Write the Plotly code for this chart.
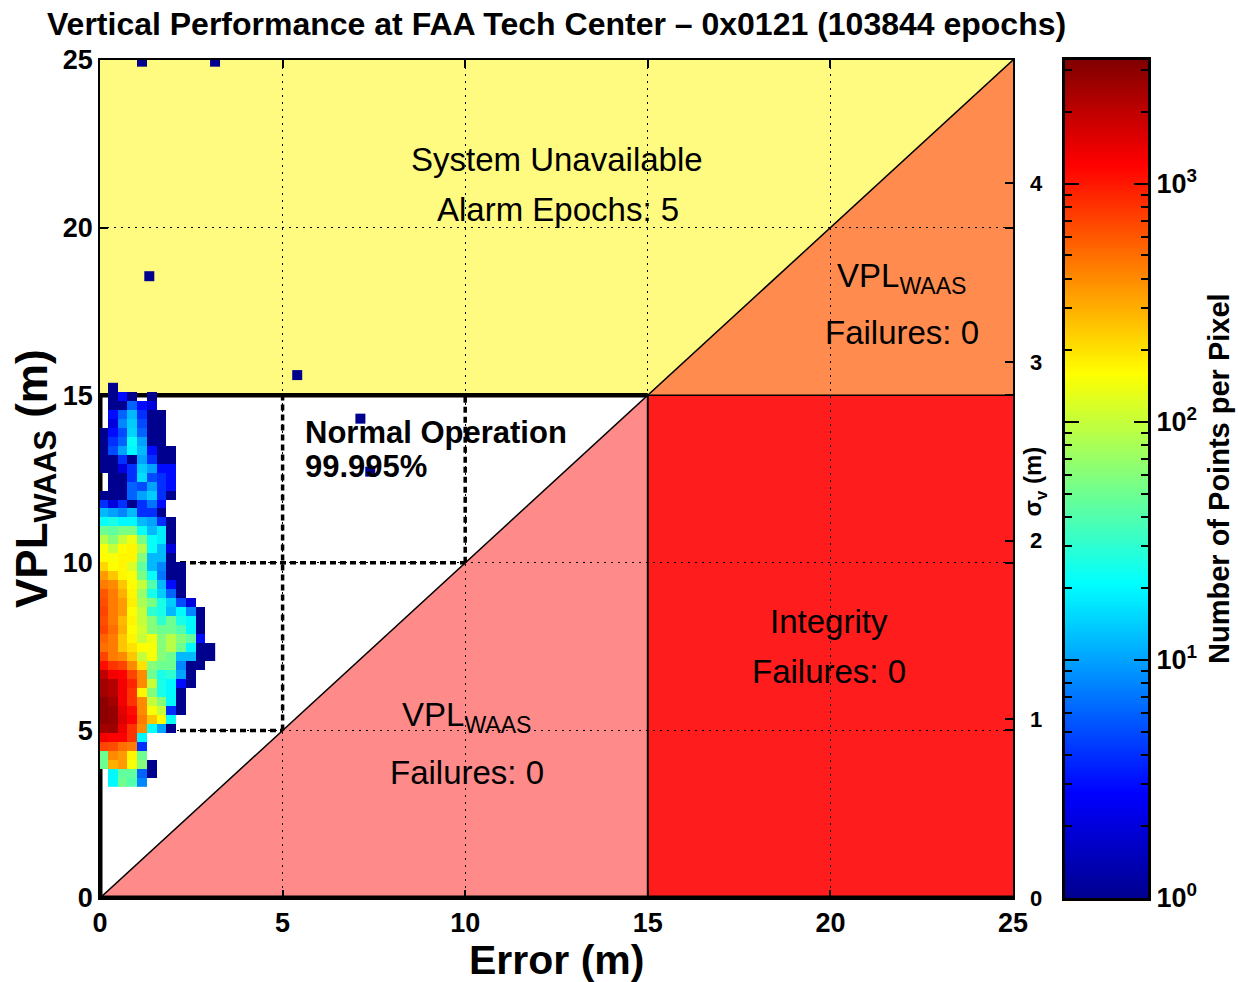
import numpy as np
import plotly.graph_objects as go

# ---------------------------------------------------------------- text
TITLE = "Vertical Performance at FAA Tech Center – 0x0121 (103844 epochs)"
X_LABEL = "Error (m)"
Y_LABEL = "VPL<sub>WAAS</sub> (m)"
SIGMA_LABEL = "σ<sub>v</sub> (m)"
CBAR_LABEL = "Number of Points per Pixel"

# ---------------------------------------------------------------- axes
AXIS_MAX = 25          # m, both axes
VAL = 15               # vertical alert limit, m
K_V = 5.33             # VPL = K_V * sigma_v
AXIS_TICKS = [0, 5, 10, 15, 20, 25]
SIGMA_TICKS = [0, 1, 2, 3, 4]
CBAR_DECADES = [0, 1, 2, 3]
LOG_COUNT_MAX = 3.52   # top of colour scale, log10(points per pixel)

# ---------------------------------------------------------------- 2-D histogram
# pixel grid: first error bin / first VPL bin lower edge and pixel size (m)
ERR_EDGE0 = -0.05
VPL_EDGE0 = 3.31
PIX = 0.268

# points per pixel, rows listed from the highest VPL pixel row down to the lowest,
# columns from the smallest error upward
counts_top_down = [
    [0, 1, 0, 0, 0, 0, 0, 0, 0, 0, 0, 0],
    [0, 1, 3, 1, 0, 1, 0, 0, 0, 0, 0, 0],
    [0, 1, 1, 6, 3, 2, 0, 0, 0, 0, 0, 0],
    [0, 3, 6, 12, 4, 1, 1, 0, 0, 0, 0, 0],
    [0, 2, 8, 14, 5, 1, 1, 0, 0, 0, 0, 0],
    [1, 3, 5, 15, 6, 1, 1, 0, 0, 0, 0, 0],
    [1, 4, 6, 22, 10, 1, 1, 0, 0, 0, 0, 0],
    [1, 5, 10, 20, 12, 3, 1, 1, 0, 0, 0, 0],
    [1, 1, 4, 1, 10, 4, 1, 1, 0, 0, 0, 0],
    [1, 1, 2, 4, 14, 10, 3, 3, 0, 0, 0, 0],
    [0, 1, 1, 4, 16, 5, 4, 3, 0, 0, 0, 0],
    [0, 1, 1, 6, 5, 10, 4, 3, 0, 0, 0, 0],
    [1, 1, 1, 6, 10, 14, 4, 1, 0, 0, 0, 0],
    [4, 2, 4, 1, 4, 7, 3, 0, 0, 0, 0, 0],
    [12, 10, 8, 12, 4, 4, 1, 0, 0, 0, 0, 0],
    [22, 25, 20, 20, 12, 10, 4, 1, 0, 0, 0, 0],
    [50, 45, 55, 55, 22, 12, 18, 1, 0, 0, 0, 0],
    [90, 60, 100, 140, 55, 22, 18, 1, 0, 0, 0, 0],
    [150, 100, 160, 170, 90, 22, 12, 2, 0, 0, 0, 0],
    [160, 150, 170, 170, 60, 12, 12, 1, 0, 0, 0, 0],
    [220, 160, 170, 120, 45, 12, 8, 1, 1, 0, 0, 0],
    [350, 250, 170, 150, 55, 22, 7, 1, 1, 0, 0, 0],
    [450, 400, 250, 160, 100, 40, 12, 3, 1, 0, 0, 0],
    [600, 450, 300, 170, 70, 25, 14, 6, 1, 0, 0, 0],
    [650, 450, 350, 180, 80, 55, 25, 14, 5, 2, 0, 0],
    [700, 450, 350, 160, 100, 30, 25, 12, 20, 8, 1, 0],
    [650, 450, 280, 170, 100, 60, 30, 50, 25, 20, 1, 0],
    [700, 500, 300, 160, 110, 60, 50, 50, 40, 20, 1, 0],
    [550, 450, 250, 170, 100, 140, 60, 90, 60, 45, 3, 0],
    [500, 450, 250, 200, 160, 150, 60, 90, 50, 20, 1, 1],
    [700, 450, 400, 250, 100, 150, 60, 50, 12, 12, 1, 1],
    [1100, 800, 700, 400, 200, 60, 50, 50, 8, 1, 1, 0],
    [2000, 1300, 1200, 700, 400, 50, 25, 30, 10, 1, 0, 0],
    [2500, 2200, 1300, 900, 400, 100, 25, 20, 3, 1, 0, 0],
    [2500, 2200, 1300, 800, 170, 60, 25, 20, 1, 0, 0, 0],
    [3000, 2500, 1300, 800, 400, 100, 60, 20, 1, 0, 0, 0],
    [3000, 2800, 1500, 1100, 400, 150, 100, 4, 1, 0, 0, 0],
    [3000, 2800, 1600, 1200, 450, 250, 160, 22, 0, 0, 0, 0],
    [2500, 2600, 1400, 800, 400, 22, 10, 1, 0, 0, 0, 0],
    [1300, 1200, 1200, 800, 20, 0, 0, 0, 0, 0, 0, 0],
    [700, 650, 500, 450, 4, 0, 0, 0, 0, 0, 0, 0],
    [50, 400, 350, 170, 50, 0, 0, 0, 0, 0, 0, 0],
    [50, 300, 350, 150, 60, 1, 0, 0, 0, 0, 0, 0],
    [0, 20, 45, 45, 6, 1, 0, 0, 0, 0, 0, 0],
    [0, 20, 50, 40, 8, 0, 0, 0, 0, 0, 0, 0],
]

# isolated single-epoch pixels away from the main cluster
outlier_error = [1.15, 3.15, 1.35, 5.40, 7.13, 7.40]
outlier_vpl = [24.95, 24.95, 18.55, 15.60, 14.30, 12.72]
outlier_counts = [1, 1, 1, 1, 1, 1]

# ---------------------------------------------------------------- region labels
region_labels = [
    # text, error (m), VPL (m)
    ("System Unavailable", 12.5, 22.02),
    ("Alarm Epochs: 5", 12.55, 20.55),
    ("VPL<sub>WAAS</sub>", 21.97, 18.5),
    ("Failures: 0", 21.97, 16.86),
    ("Integrity", 19.97, 8.26),
    ("Failures: 0", 19.97, 6.77),
    ("VPL<sub>WAAS</sub>", 10.05, 5.4),
    ("Failures: 0", 10.05, 3.73),
]
normal_op_labels = [
    ("Normal Operation", 5.55, 13.9),
    ("99.995%", 5.55, 12.86),
]

# ---------------------------------------------------------------- styling
JET = [
    [0.000, "rgb(0,0,143)"],
    [0.125, "rgb(0,0,255)"],
    [0.375, "rgb(0,255,255)"],
    [0.625, "rgb(255,255,0)"],
    [0.875, "rgb(255,0,0)"],
    [1.000, "rgb(128,0,0)"],
]
C_UNAVAIL = "#FFFA80"
C_HAZ_UNAVAIL = "#FF8C4E"
C_INTEGRITY = "#FF1C1C"
C_MISLEAD = "#FF8A8A"

BOLD = "Liberation Sans, Arial, sans-serif"
REG = "Liberation Sans, Arial, sans-serif"

W, H = 1238, 982
ML, MR, MT, MB = 100, 60, 60, 84
PW = W - ML - MR
MAIN_RIGHT = 913 / PW
CBAR_DOM = [(1065 - ML) / PW, (1148 - ML) / PW]

# ---------------------------------------------------------------- data prep
counts = np.array(counts_top_down[::-1], dtype=float)
n_rows, n_cols = counts.shape
err_centres = ERR_EDGE0 + PIX * (np.arange(n_cols) + 0.5)
vpl_centres = VPL_EDGE0 + PIX * (np.arange(n_rows) + 0.5)
z = np.where(counts > 0, np.log10(np.where(counts > 0, counts, 1)), np.nan)
z_list = [[None if np.isnan(v) else float(v) for v in row] for row in z]

fig = go.Figure()

fig.add_trace(go.Heatmap(
    x=err_centres, y=vpl_centres, z=z_list,
    colorscale=JET, zmin=0, zmax=LOG_COUNT_MAX, zsmooth=False,
    showscale=False, hoverinfo="skip", xaxis="x", yaxis="y",
))

fig.add_trace(go.Scatter(
    x=outlier_error, y=outlier_vpl, mode="markers",
    marker=dict(symbol="square", size=10, line=dict(width=0),
                color=np.log10(outlier_counts), colorscale=JET,
                cmin=0, cmax=LOG_COUNT_MAX),
    hoverinfo="skip", showlegend=False, xaxis="x", yaxis="y",
))

# placeholder so the sigma_v axis on the right is rendered
fig.add_trace(go.Scatter(
    x=[None], y=[None], mode="markers", hoverinfo="skip", showlegend=False,
    xaxis="x", yaxis="y2",
))

# colour bar drawn as its own heat strip so its ticks can sit on both edges
cbar_levels = np.linspace(0, LOG_COUNT_MAX, 400)
fig.add_trace(go.Heatmap(
    x=[0.5], y=cbar_levels, z=[[v] for v in cbar_levels],
    colorscale=JET, zmin=0, zmax=LOG_COUNT_MAX, zsmooth=False,
    showscale=False, hoverinfo="skip", xaxis="x3", yaxis="y3",
))

# ---------------------------------------------------------------- regions
shapes = []
def rect(x0, y0, x1, y1, color):
    return dict(type="rect", xref="x", yref="y", x0=x0, y0=y0, x1=x1, y1=y1,
                fillcolor=color, line=dict(width=0), layer="below")

def poly(pts, color):
    path = "M " + " L ".join(f"{px} {py}" for px, py in pts) + " Z"
    return dict(type="path", xref="x", yref="y", path=path,
                fillcolor=color, line=dict(width=0), layer="below")

def seg(x0, y0, x1, y1, width, dash="solid", layer="between"):
    return dict(type="line", xref="x", yref="y", x0=x0, y0=y0, x1=x1, y1=y1,
                line=dict(color="black", width=width, dash=dash), layer=layer)

shapes.append(rect(0, VAL, AXIS_MAX, AXIS_MAX, C_UNAVAIL))
shapes.append(poly([(VAL, VAL), (AXIS_MAX, AXIS_MAX), (AXIS_MAX, VAL)], C_HAZ_UNAVAIL))
shapes.append(rect(VAL, 0, AXIS_MAX, VAL, C_INTEGRITY))
shapes.append(poly([(0, 0), (VAL, VAL), (VAL, 0)], C_MISLEAD))

# heavier dotted grid inside the normal-operation zone
THICK_DOT = "6px,4px"
shapes.append(seg(0, 10, 10, 10, 3.5, THICK_DOT))
shapes.append(seg(0, 5, 5, 5, 3.5, THICK_DOT))
shapes.append(seg(5, 5, 5, VAL, 3.5, THICK_DOT))
shapes.append(seg(10, 10, 10, VAL, 3.5, THICK_DOT))

# region boundaries
shapes.append(seg(0, 0, AXIS_MAX, AXIS_MAX, 1.5))
shapes.append(seg(VAL, 0, VAL, VAL, 2))
shapes.append(seg(VAL, VAL, AXIS_MAX, VAL, 1.5))
shapes.append(seg(0, VAL, VAL, VAL, 4.5))
shapes.append(seg(0, 0, 0, VAL, 5))
shapes.append(seg(0, 0, AXIS_MAX, 0, 5))

# ---------------------------------------------------------------- annotations
ann = []
for text, ex, vy in region_labels:
    ann.append(dict(x=ex, y=vy, xref="x", yref="y", text=text, showarrow=False,
                    font=dict(family=REG, size=33, color="black"),
                    xanchor="center", yanchor="middle"))
for text, ex, vy in normal_op_labels:
    ann.append(dict(x=ex, y=vy, xref="x", yref="y", text=text, showarrow=False,
                    font=dict(family=BOLD, size=31, color="black", weight="bold"),
                    xanchor="left", yanchor="middle"))

ann.append(dict(x=MAIN_RIGHT / 2, y=1.043, xref="paper", yref="paper", text=TITLE,
                showarrow=False, xanchor="center", yanchor="middle",
                font=dict(family=BOLD, size=32, color="black", weight="bold")))
ann.append(dict(x=MAIN_RIGHT / 2, y=-0.074, xref="paper", yref="paper", text=X_LABEL,
                showarrow=False, xanchor="center", yanchor="middle",
                font=dict(family=BOLD, size=41, color="black", weight="bold")))
ann.append(dict(x=(35 - ML) / PW, y=0.5, xref="paper", yref="paper", text=Y_LABEL,
                showarrow=False, textangle=-90, xanchor="center", yanchor="middle",
                font=dict(family=BOLD, size=44, color="black", weight="bold")))
ann.append(dict(x=(1035 - ML) / PW, y=0.497, xref="paper", yref="paper", text=SIGMA_LABEL,
                showarrow=False, textangle=-90, xanchor="center", yanchor="middle",
                font=dict(family=BOLD, size=24, color="black", weight="bold")))
ann.append(dict(x=(1219 - ML) / PW, y=0.5, xref="paper", yref="paper", text=CBAR_LABEL,
                showarrow=False, textangle=-90, xanchor="center", yanchor="middle",
                font=dict(family=BOLD, size=29, color="black", weight="bold")))

# ---------------------------------------------------------------- layout
tick_font = dict(family=BOLD, size=27, color="black", weight="bold")
grid = dict(showgrid=True, gridcolor="black", gridwidth=1.2, griddash="2px,5px")

minor_cbar = [d + np.log10(m) for d in CBAR_DECADES for m in range(2, 10)
              if d + np.log10(m) < LOG_COUNT_MAX]

fig.update_layout(
    width=W, height=H, autosize=False,
    margin=dict(l=ML, r=MR, t=MT, b=MB),
    paper_bgcolor="white", plot_bgcolor="white",
    showlegend=False,
    shapes=shapes, annotations=ann,
    xaxis=dict(domain=[0, MAIN_RIGHT], range=[0, AXIS_MAX], anchor="y",
               tickmode="array", tickvals=AXIS_TICKS, ticks="inside", ticklen=8,
               tickwidth=1.5, tickcolor="black", showline=True, linecolor="black",
               linewidth=1.5, mirror="ticks", zeroline=False, tickfont=tick_font,
               layer="below traces", **grid),
    yaxis=dict(domain=[0, 1], range=[0, AXIS_MAX], anchor="x",
               tickmode="array", tickvals=AXIS_TICKS, ticks="inside", ticklen=8,
               tickwidth=1.5, tickcolor="black", showline=True, linecolor="black",
               linewidth=1.5, mirror="ticks", zeroline=False, tickfont=tick_font,
               layer="below traces", **grid),
    yaxis2=dict(overlaying="y", side="right", anchor="x",
                range=[0, AXIS_MAX / K_V], tickmode="array", tickvals=SIGMA_TICKS,
                ticks="inside", ticklen=8, tickwidth=1.5, tickcolor="black",
                ticklabelstandoff=16,
                showgrid=False, zeroline=False, showline=False,
                tickfont=dict(family=BOLD, size=22, color="black", weight="bold")),
    xaxis3=dict(domain=CBAR_DOM, range=[0, 1], anchor="y3", showticklabels=False,
                ticks="", showgrid=False, zeroline=False, showline=True,
                linecolor="black", linewidth=3, mirror=True),
    yaxis3=dict(domain=[0, 1], range=[0, LOG_COUNT_MAX], anchor="x3", side="right",
                tickmode="array", tickvals=CBAR_DECADES,
                ticktext=[f"10<sup>{d}</sup>" for d in CBAR_DECADES],
                ticks="inside", ticklen=14, tickwidth=1.5, tickcolor="black",
                showline=True, linecolor="black", linewidth=3, mirror="ticks",
                showgrid=False, zeroline=False, tickfont=tick_font,
                minor=dict(tickmode="array", tickvals=minor_cbar, ticks="inside",
                           ticklen=7, tickwidth=1.5, tickcolor="black", showgrid=False)),
)

fig.write_html("out.html")
